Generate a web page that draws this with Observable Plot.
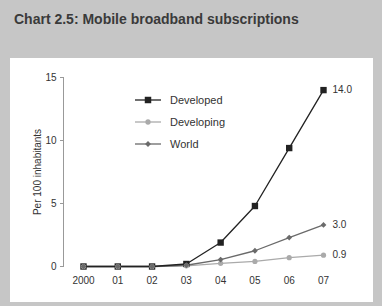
<!DOCTYPE html>
<html>
<head>
<meta charset="utf-8">
<script src="https://cdn.jsdelivr.net/npm/d3@7"></script>
<script src="https://cdn.jsdelivr.net/npm/@observablehq/plot@0.6"></script>
<style>
  html, body { margin: 0; padding: 0; }
  body { width: 382px; height: 306px; background: #c6c6c6; position: relative; overflow: hidden; font-family: "Liberation Sans", Arial, sans-serif; }
  #title { position: absolute; left: 14px; top: 11px; font-size: 14px; font-weight: bold; color: #3a3a3a; white-space: nowrap; }
  #panel { position: absolute; left: 10px; top: 58px; width: 363px; height: 244px; background: #fff; }
  #chart { position: absolute; left: 0; top: 0; }
  #legend { position: absolute; left: 134px; top: 89px; font-size: 11px; color: #333; }
  .item { display: flex; align-items: center; height: 22px; }
  .item svg { margin-right: 8px; }
</style>
</head>
<body>
<div id="title">Chart 2.5: Mobile broadband subscriptions</div>
<div id="panel"></div>
<div id="chart"></div>
<div id="legend"></div>
<script>
const years = [2000, 2001, 2002, 2003, 2004, 2005, 2006, 2007];
const tickLabels = ["2000", "01", "02", "03", "04", "05", "06", "07"];
const developed = [0, 0, 0, 0.2, 1.9, 4.8, 9.4, 14.0];
const developing = [0, 0, 0, 0.05, 0.25, 0.4, 0.7, 0.9];
const world = [0, 0, 0, 0.1, 0.55, 1.25, 2.3, 3.3];
const seriesNames = ["Developed", "Developing", "World"];
const endLabels = ["14.0", "0.9", "3.0"];
const yTicks = [0, 5, 10, 15];

const colors = {Developed: "#222", Developing: "#aaa", World: "#6a6a6a"};
const symbols = {Developed: "square", Developing: "circle", World: "diamond2"};

const seriesValues = [developed, developing, world];
const rows = [];
seriesNames.forEach((name, i) => {
  years.forEach((yr, j) => rows.push({series: name, year: yr, value: seriesValues[i][j], label: endLabels[i], last: j === years.length - 1}));
});
const lastRows = rows.filter(d => d.last);

const marks = [
  Plot.frame({anchor: "left", stroke: "#999"}),
  Plot.axisY({ticks: yTicks, tickSize: 3, tickPadding: 4, fontSize: 10, stroke: "#999", color: "#333",
    label: "Per 100 inhabitants", labelAnchor: "center", labelOffset: 30, labelArrow: "none"}),
  Plot.axisX({ticks: years, tickFormat: (d) => tickLabels[years.indexOf(d)], tickSize: 0, tickPadding: 10, fontSize: 10, color: "#333", label: null})
];
for (const s of ["Developing", "World", "Developed"]) {
  const data = rows.filter(d => d.series === s);
  marks.push(Plot.line(data, {x: "year", y: "value", stroke: colors[s], strokeWidth: 1.3}));
}
for (const s of ["Developed", "Developing", "World"]) {
  const data = rows.filter(d => d.series === s);
  marks.push(Plot.dot(data, {x: "year", y: "value", symbol: symbols[s], fill: colors[s], r: s === "Developed" ? 3.6 : 2.6, stroke: "none"}));
}
marks.push(Plot.text(lastRows, {x: "year", y: "value", text: "label", dx: 9, textAnchor: "start", fontSize: 10, fill: "#333"}));

const chart = Plot.plot({
  width: 382,
  height: 306,
  marginLeft: 63,
  marginRight: 59,
  insetLeft: 20,
  marginTop: 77,
  marginBottom: 40,
  x: {domain: [2000, 2007], axis: null},
  y: {domain: [0, 15], axis: null},
  style: {background: "transparent", fontFamily: "Liberation Sans, Arial, sans-serif"},
  marks
});
document.getElementById("chart").appendChild(chart);

// legend
const legend = document.getElementById("legend");
for (const s of seriesNames) {
  const item = document.createElement("div");
  item.className = "item";
  const sym = d3.symbol(s === "Developed" ? d3.symbolSquare : s === "Developing" ? d3.symbolCircle : d3.symbolDiamond2, s === "Developed" ? 42 : 22)();
  item.innerHTML = `<svg width="28" height="10"><line x1="1" x2="27" y1="5" y2="5" stroke="${colors[s]}" stroke-width="1.3"/><path d="${sym}" transform="translate(14,5)" fill="${colors[s]}"/></svg><span>${s}</span>`;
  legend.appendChild(item);
}
</script>
</body>
</html>
